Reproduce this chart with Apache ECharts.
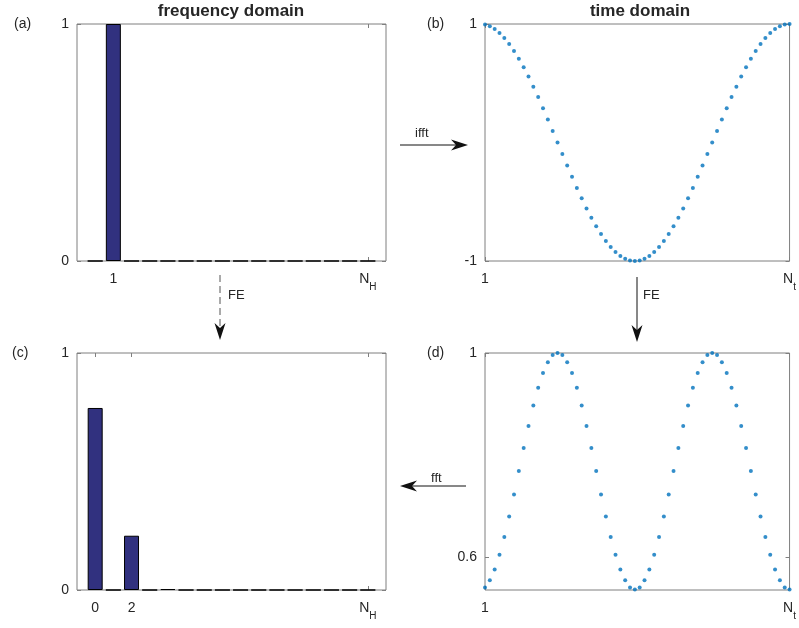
<!DOCTYPE html>
<html>
<head>
<meta charset="utf-8">
<script src="https://cdn.jsdelivr.net/npm/echarts@6/dist/echarts.min.js"></script>
<style>
  html, body { margin: 0; padding: 0; background: #fff; }
  #chart { width: 799px; height: 628px; }
</style>
</head>
<body>
<div id="chart"></div>
<script>
// Harmonic bins 0..N_H (N_H = 15)
const binIdx = [0, 1, 2, 3, 4, 5, 6, 7, 8, 9, 10, 11, 12, 13, 14, 15];
// (a) spectrum of the input: a single unit harmonic
const specA = [0, 1, 0, 0, 0, 0, 0, 0, 0, 0, 0, 0, 0, 0, 0, 0];
// (c) spectrum after FE: DC, 2nd and a trace of the 4th harmonic
const specC = [0.768, 0, 0.229, 0, 0.004, 0, 0, 0, 0, 0, 0, 0, 0, 0, 0, 0];

// Time samples 1..N (N = 64)
const sampleIdx = [
  1, 2, 3, 4, 5, 6, 7, 8, 9, 10, 11, 12, 13, 14, 15, 16,
  17, 18, 19, 20, 21, 22, 23, 24, 25, 26, 27, 28, 29, 30, 31, 32,
  33, 34, 35, 36, 37, 38, 39, 40, 41, 42, 43, 44, 45, 46, 47, 48,
  49, 50, 51, 52, 53, 54, 55, 56, 57, 58, 59, 60, 61, 62, 63, 64
];
// (b) time-domain waveform
const timeB = [
  0.995, 0.981, 0.957, 0.924, 0.882, 0.831, 0.773, 0.707, 0.634, 0.556, 0.471, 0.383, 0.290, 0.195, 0.098, 0,
  -0.098, -0.195, -0.290, -0.383, -0.471, -0.556, -0.634, -0.707, -0.773, -0.831, -0.882, -0.924, -0.957, -0.981, -0.995, -1,
  -0.995, -0.981, -0.957, -0.924, -0.882, -0.831, -0.773, -0.707, -0.634, -0.556, -0.471, -0.383, -0.290, -0.195, -0.098, 0,
  0.098, 0.195, 0.290, 0.383, 0.471, 0.556, 0.634, 0.707, 0.773, 0.831, 0.882, 0.924, 0.957, 0.981, 0.995, 1
];
// (d) waveform after FE
const timeD = [
  0.541, 0.555, 0.576, 0.605, 0.640, 0.680, 0.723, 0.769, 0.814, 0.857, 0.897, 0.932, 0.961, 0.982, 0.996, 1,
  0.996, 0.982, 0.961, 0.932, 0.897, 0.857, 0.814, 0.769, 0.723, 0.680, 0.640, 0.605, 0.576, 0.555, 0.541, 0.537,
  0.541, 0.555, 0.576, 0.605, 0.640, 0.680, 0.723, 0.769, 0.814, 0.857, 0.897, 0.932, 0.961, 0.982, 0.996, 1,
  0.996, 0.982, 0.961, 0.932, 0.897, 0.857, 0.814, 0.769, 0.723, 0.680, 0.640, 0.605, 0.576, 0.555, 0.541, 0.537
];

// Tick positions
const ticksFreqA = [1, 15];
const ticksFreqC = [0, 2, 15];
const ticksTime = [1, 64];
const ticksYUnit = [0, 1];
const ticksYB = [-1, 1];
const ticksYD = [0.6, 1];

const FONT = '"Liberation Sans", Arial, Helvetica, sans-serif';
const AXIS_GRAY = '#7f7f7f';
const TEXT = '#262626';

const rich = {
  n: { fontSize: 14, fontFamily: FONT, color: TEXT, verticalAlign: 'top', lineHeight: 15 },
  s: { fontSize: 10, fontFamily: FONT, color: TEXT, verticalAlign: 'top', padding: [10, 0, 0, 0], lineHeight: 15 }
};

function freqLabel(v) {
  return v === 15 ? '{n|N}{s|H}' : '{n|' + v + '}';
}
function timeLabel(v) {
  return v === 64 ? '{n|N}{s|t}' : '{n|' + v + '}';
}

const panels = [
  { left: 77, top: 24, width: 309, height: 237, xmin: -1, xmax: 16, ymin: 0, ymax: 1,
    xt: ticksFreqA, yt: ticksYUnit, xf: freqLabel },
  { left: 485, top: 24, width: 310, height: 237, xmin: 1, xmax: 64, ymin: -1, ymax: 1,
    xt: ticksTime, yt: ticksYB, xf: timeLabel },
  { left: 77, top: 353, width: 309, height: 237, xmin: -1, xmax: 16, ymin: 0, ymax: 1,
    xt: ticksFreqC, yt: ticksYUnit, xf: freqLabel },
  { left: 485, top: 353, width: 310, height: 237, xmin: 1, xmax: 64, ymin: 0.536, ymax: 1,
    xt: ticksTime, yt: ticksYD, xf: timeLabel }
];

const grid = [], xAxis = [], yAxis = [];
panels.forEach((p, i) => {
  grid.push({ left: p.left, top: p.top, width: p.width, height: p.height,
    show: true, borderColor: AXIS_GRAY, borderWidth: 1, backgroundColor: '#fff', containLabel: false });
  const tick = { show: true, inside: true, length: 4, lineStyle: { color: AXIS_GRAY } };
  ['bottom', 'top'].forEach((pos, k) => {
    xAxis.push({
      type: 'value', gridIndex: i, position: pos, min: p.xmin, max: p.xmax,
      axisLine: { show: false, onZero: false }, splitLine: { show: false },
      axisTick: Object.assign({ customValues: p.xt }, tick),
      axisLabel: {
        show: k === 0, customValues: p.xt, margin: 11, formatter: p.xf, rich: rich,
        fontSize: 14, fontFamily: FONT, color: TEXT, showMinLabel: true, showMaxLabel: true
      }
    });
  });
  ['left', 'right'].forEach((pos, k) => {
    yAxis.push({
      type: 'value', gridIndex: i, position: pos, min: p.ymin, max: p.ymax,
      axisLine: { show: false, onZero: false }, splitLine: { show: false },
      axisTick: Object.assign({ customValues: p.yt }, tick),
      axisLabel: {
        show: k === 0, customValues: p.yt, margin: 8,
        fontSize: 14, fontFamily: FONT, color: TEXT, showMinLabel: true, showMaxLabel: true
      }
    });
  });
});

const barStyle = { color: '#31317f', borderColor: '#000', borderWidth: 1 };
const dotStyle = { color: '#0072bd' };

const series = [
  { type: 'bar', xAxisIndex: 0, yAxisIndex: 0, barWidth: 15, itemStyle: barStyle,
    data: binIdx.map((b, i) => [b, specA[i]]) },
  { type: 'scatter', xAxisIndex: 2, yAxisIndex: 2, symbolSize: 4, itemStyle: dotStyle,
    data: sampleIdx.map((t, i) => [t, timeB[i]]) },
  { type: 'bar', xAxisIndex: 4, yAxisIndex: 4, barWidth: 15, itemStyle: barStyle,
    data: binIdx.map((b, i) => [b, specC[i]]) },
  { type: 'scatter', xAxisIndex: 6, yAxisIndex: 6, symbolSize: 4, itemStyle: dotStyle,
    data: sampleIdx.map((t, i) => [t, timeD[i]]) }
];

// Annotation helpers: text, arrow shafts and stealth-style arrow heads
function txt(text, x, y, size) {
  return {
    type: 'text', silent: true,
    style: { text: text, x: x, y: y, font: (size || 13) + 'px ' + FONT, fill: TEXT, align: 'left', verticalAlign: 'middle' }
  };
}
function shaft(x1, y1, x2, y2, dashed) {
  return { type: 'line', silent: true,
    shape: { x1: x1, y1: y1, x2: x2, y2: y2 },
    style: { stroke: dashed ? '#555' : '#111', lineWidth: 1, lineDash: dashed ? [7, 4] : null } };
}
function head(tx, ty, dir) {
  // dir: 'r', 'l', 'd'
  const L = 17, B = 12, W = 5.5;
  let pts;
  if (dir === 'r') pts = [[tx, ty], [tx - L, ty - W], [tx - B, ty], [tx - L, ty + W]];
  else if (dir === 'l') pts = [[tx, ty], [tx + L, ty - W], [tx + B, ty], [tx + L, ty + W]];
  else pts = [[tx, ty], [tx - W, ty - L], [tx, ty - B], [tx + W, ty - L]];
  return { type: 'polygon', silent: true, shape: { points: pts }, style: { fill: '#111' } };
}

const graphic = [
  { type: 'text', silent: true, style: { text: 'frequency domain', x: 231, y: 11,
      font: 'bold 17px ' + FONT, fill: TEXT, align: 'center', verticalAlign: 'middle' } },
  { type: 'text', silent: true, style: { text: 'time domain', x: 640, y: 11,
      font: 'bold 17px ' + FONT, fill: TEXT, align: 'center', verticalAlign: 'middle' } },
  txt('(a)', 14, 24, 14), txt('(b)', 427, 24, 14), txt('(c)', 12, 353, 14), txt('(d)', 427, 353, 14),
  // ifft arrow
  shaft(400, 145, 460, 145), head(468, 145, 'r'), txt('ifft', 415, 133),
  // fft arrow
  shaft(408, 486, 466, 486), head(400, 486, 'l'), txt('fft', 431, 478),
  // FE dashed arrow (frequency side)
  shaft(220, 275, 220, 330, true), head(220, 340, 'd'), txt('FE', 228, 295),
  // FE solid arrow (time side)
  shaft(637, 277, 637, 334), head(637, 342, 'd'), txt('FE', 643, 295)
];

const chart = echarts.init(document.getElementById('chart'), null, { renderer: 'canvas' });
chart.setOption({
  animation: false,
  backgroundColor: '#fff',
  grid: grid, xAxis: xAxis, yAxis: yAxis, series: series, graphic: graphic
});
</script>
</body>
</html>
